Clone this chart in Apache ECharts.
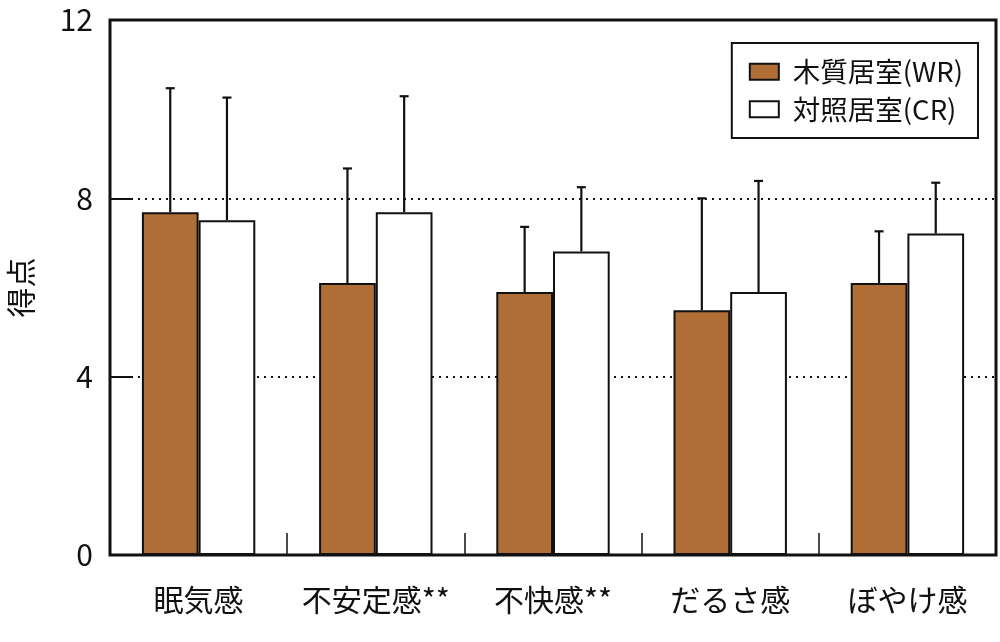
<!DOCTYPE html>
<html>
<head>
<meta charset="utf-8">
<script src="https://cdn.jsdelivr.net/npm/echarts@6/dist/echarts.min.js"></script>
<style>
  html, body { margin: 0; padding: 0; background: #ffffff; }
  #main { width: 1000px; height: 642px; }
</style>
</head>
<body>
<div id="main"></div>
<script>
// categories and values
var categories = ['眠気感', '不安定感**', '不快感**', 'だるさ感', 'ぼやけ感'];
var wrMean = [7.69, 6.10, 5.90, 5.49, 6.10];
var wrSd = [2.78, 2.57, 1.46, 2.51, 1.16];
var crMean = [7.51, 7.69, 6.81, 5.90, 7.21];
var crSd = [2.75, 2.60, 1.44, 2.49, 1.14];
var yTicks = [0, 4, 8, 12];

var FONT = '"Noto Sans CJK JP", "Noto Sans", sans-serif';

var myChart = echarts.init(document.getElementById('main'));

// error bar data: [index, mean, mean+sd]
function errData(mean, sd) {
	var out = [];
	for (var i = 0; i < mean.length; i++) {
		out.push([i, mean[i], mean[i] + sd[i]]);
	}
	return out;
}

function errRender(sign) {
	return function (params, api) {
		var i = api.value(0);
		var p0 = api.coord([i, api.value(1)]);
		var p1 = api.coord([i, api.value(2)]);
		var band = api.size([1, 0])[0];
		var x = p0[0] + sign * band * 0.16;
		var st = { stroke: '#111', lineWidth: 2.2 };
		return {
			type: 'group',
			children: [
				{ type: 'line', shape: { x1: x, y1: p0[1], x2: x, y2: p1[1] }, style: st },
				{ type: 'line', shape: { x1: x - 4.5, y1: p1[1], x2: x + 4.5, y2: p1[1] }, style: st }
			]
		};
	};
}

var option = {
	animation: false,
	backgroundColor: '#ffffff',
	grid: {
		left: 110, right: 4, top: 20, bottom: 87,
		outerBoundsMode: 'none',
		containLabel: false,
		show: true, borderColor: '#111', borderWidth: 3
	},
	legend: {
		data: ['木質居室(WR)', '対照居室(CR)'],
		orient: 'vertical',
		right: 22, top: 43,
		borderColor: '#111', borderWidth: 2,
		padding: [15, 15, 15, 17],
		itemWidth: 29, itemHeight: 16, itemGap: 10,
		icon: 'rect',
		textStyle: { fontFamily: FONT, fontSize: 27.5, color: '#111', padding: [0, 0, 0, 9] }
	},
	xAxis: {
		type: 'category',
		data: categories,
		axisLine: { show: false },
		axisTick: { show: true, inside: true, length: 22, interval: 0, lineStyle: { color: '#111', width: 1.5 } },
		axisLabel: { interval: 0, margin: 30, fontFamily: FONT, fontSize: 30, color: '#111' }
	},
	yAxis: {
		type: 'value',
		min: yTicks[0], max: yTicks[yTicks.length - 1], interval: 4,
		name: '得点',
		nameLocation: 'middle',
		nameGap: 74,
		nameRotate: 90,
		nameTextStyle: { fontFamily: FONT, fontSize: 30, color: '#111' },
		axisLine: { show: false },
		axisTick: { show: true, inside: true, length: 22, lineStyle: { color: '#111', width: 2 } },
		axisLabel: { margin: 17, fontFamily: FONT, fontSize: 30, color: '#111' },
		splitLine: { show: true, lineStyle: { color: '#111', width: 1.8, type: [2, 5] } }
	},
	series: [
		{
			name: '木質居室(WR)', type: 'bar', data: wrMean,
			barGap: 0, barCategoryGap: '36%',
			itemStyle: { color: '#B06E37', borderColor: '#111', borderWidth: 2 }
		},
		{
			name: '対照居室(CR)', type: 'bar', data: crMean,
			itemStyle: { color: '#ffffff', borderColor: '#111', borderWidth: 2 }
		},
		{
			type: 'custom', data: errData(wrMean, wrSd), renderItem: errRender(-1), z: 5,
			encode: { x: 0, y: [1, 2] }
		},
		{
			type: 'custom', data: errData(crMean, crSd), renderItem: errRender(1), z: 5,
			encode: { x: 0, y: [1, 2] }
		}
	]
};

myChart.setOption(option);
</script>
</body>
</html>
